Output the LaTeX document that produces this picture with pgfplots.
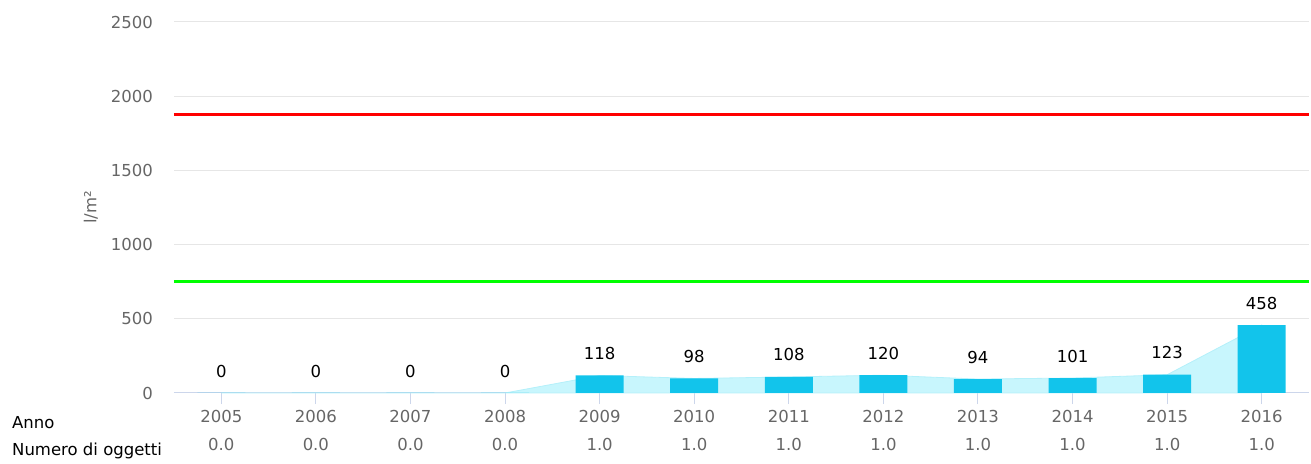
\documentclass[border=0pt]{standalone}
\usepackage{fontspec}
\setmainfont{DejaVu Sans}
\usepackage{pgfplots}
\pgfplotsset{compat=1.18}
\definecolor{barcol}{HTML}{12C4EB}
\definecolor{areacol}{HTML}{C8F6FD}
\definecolor{areaedge}{HTML}{B4F0FA}
\definecolor{gridcol}{HTML}{E6E6E6}
\definecolor{axcol}{HTML}{CCD6EB}
\definecolor{labgray}{HTML}{666666}
\begin{document}
\fontsize{16.5}{20}\selectfont
\begin{tikzpicture}
\begin{axis}[
  name=ax,
  scale only axis, width=1135pt, height=371pt,
  xmin=-0.5, xmax=11.5, ymin=0, ymax=2500,
  ytick={0,500,...,2500},
  xtick={0,...,11},
  xticklabels={2005,2006,2007,2008,2009,2010,2011,2012,2013,2014,2015,2016},
  extra x ticks={0,...,11},
  extra x tick labels={0.0,0.0,0.0,0.0,1.0,1.0,1.0,1.0,1.0,1.0,1.0,1.0},
  extra x tick style={major tick length=0pt, xticklabel style={yshift=-39pt}, grid=none},
  axis x line*=bottom, axis y line*=left,
  y axis line style={draw=none},
  x axis line style={draw=axcol, line width=1pt},
  ymajorgrids, grid style={gridcol, line width=1pt},
  tick align=outside,
  xtick style={draw=axcol, line width=1pt}, major tick length=11pt,
  ytick style={draw=none},
  ticklabel style={text=labgray},
  /pgf/number format/assume math mode=true,
  /pgf/number format/1000 sep={},
  yticklabel style={anchor=east, inner sep=0pt, xshift=-10pt},
  xticklabel style={anchor=base, inner sep=0pt, yshift=-18pt},
  clip=false,
]
\addplot[fill=areacol, draw=areaedge, line width=0.8pt] coordinates {
  (0,0) (1,0) (2,0) (3,0) (4,118) (5,98) (6,108) (7,120) (8,94) (9,101) (10,123) (11,458)
} \closedcycle;
\addplot[red, line width=2.5pt] coordinates {(-0.5,1875) (11.5,1875)};
\addplot[green, line width=2.5pt] coordinates {(-0.5,750) (11.5,750)};
\addplot[ybar, bar width=48pt, fill=barcol, draw=none,
  nodes near coords,
  every node near coord/.append style={anchor=center, yshift=22pt, text=black}]
  coordinates {
  (0,0) (1,0) (2,0) (3,0) (4,118) (5,98) (6,108) (7,120) (8,94) (9,101) (10,123) (11,458)
};
\node[anchor=base west, inner sep=0pt, text=black] at ([xshift=-162pt, yshift=-35pt]rel axis cs:0,0) {Anno};
\node[anchor=base west, inner sep=0pt, text=black] at ([xshift=-162pt, yshift=-62pt]rel axis cs:0,0) {Numero di oggetti};
\node[rotate=90, text=labgray] at ([xshift=-83pt]rel axis cs:0,0.5) {l/m²};
\end{axis}
\pgfresetboundingbox
\useasboundingbox ([xshift=-174pt, yshift=-70pt]ax.south west) rectangle ([xshift=2pt, yshift=22pt]ax.north east);
\end{tikzpicture}
\end{document}
